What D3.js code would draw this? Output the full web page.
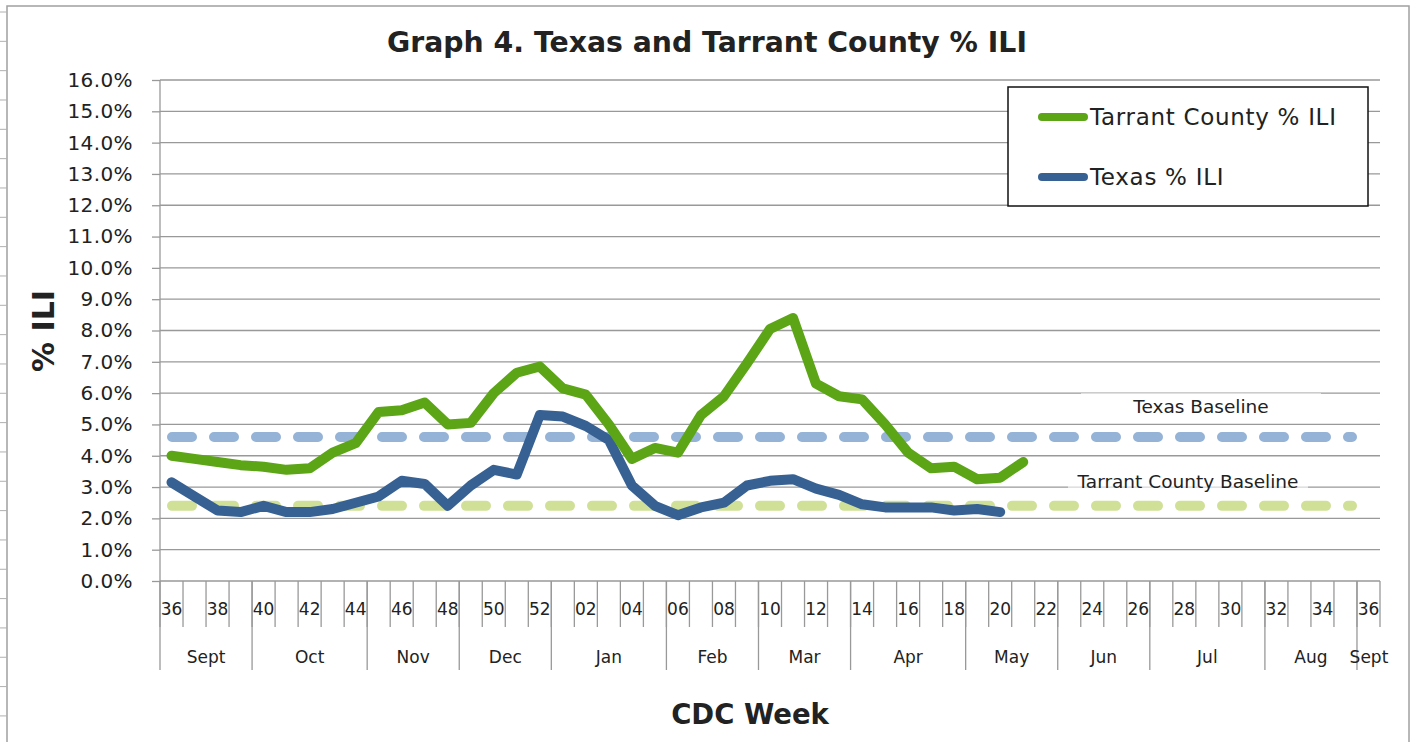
<!DOCTYPE html>
<html>
<head>
<meta charset="utf-8">
<script src="https://cdn.jsdelivr.net/npm/d3@7"></script>
<style>
  body { margin: 0; background: #fff; }
  text { font-family: "DejaVu Sans", Verdana, sans-serif; fill: #222; }
</style>
</head>
<body>
<div id="chart"></div>
<script>
// CDC weeks, 36 of one year to 36 of the next
var weeks = ["36","37","38","39","40","41","42","43","44","45","46","47","48","49","50","51","52",
  "01","02","03","04","05","06","07","08","09","10","11","12","13","14","15","16","17","18","19",
  "20","21","22","23","24","25","26","27","28","29","30","31","32","33","34","35","36"];

// month groups under the weeks and how many weeks each covers
var months = ["Sept","Oct","Nov","Dec","Jan","Feb","Mar","Apr","May","Jun","Jul","Aug","Sept"];
var monthSpans = [4,5,4,4,5,4,4,5,4,4,5,4,1];

// % ILI by week (starting at week 36)
var tarrant = [4.0,3.9,3.8,3.7,3.65,3.55,3.6,4.1,4.4,5.4,5.45,5.7,5.0,5.05,6.0,6.65,6.85,
  6.15,5.95,5.0,3.9,4.25,4.1,5.3,5.9,6.95,8.05,8.4,6.3,5.9,5.8,5.0,4.1,3.6,3.65,3.25,3.3,3.8];
var texas = [3.15,2.7,2.25,2.2,2.4,2.2,2.2,2.3,2.5,2.7,3.2,3.1,2.4,3.05,3.55,3.4,5.3,
  5.25,4.95,4.5,3.05,2.4,2.1,2.35,2.5,3.05,3.2,3.25,2.95,2.75,2.45,2.35,2.35,2.35,2.25,2.3,2.2];

var texasBaseline = 4.6;
var tarrantBaseline = 2.4;

var yTicks = d3.range(0, 17, 1);

var W = 1419, H = 742;
var svg = d3.select("#chart").append("svg")
  .attr("width", W)
  .attr("height", H);

// chart frame
svg.append("rect")
  .attr("x", 7).attr("y", 6)
  .attr("width", 1402).attr("height", 760)
  .attr("fill", "white")
  .attr("stroke", "#a0a0a0")
  .attr("stroke-width", 1.5);

// little sheet row marks left of the frame
svg.selectAll(".rowmark")
  .data(d3.range(0, 25))
  .enter().append("line")
    .attr("x1", 0).attr("x2", 7)
    .attr("y1", function(d) { return 12 + d * 29.33; })
    .attr("y2", function(d) { return 12 + d * 29.33; })
    .attr("stroke", "#b0b0b0");

var x = d3.scaleBand()
  .domain(d3.range(weeks.length))
  .range([160, 1380]);

var y = d3.scaleLinear()
  .domain([0, 16])
  .range([581, 80]);

// gridlines + y labels
var yAxis = svg.append("g")
  .attr("transform", "translate(160,0)")
  .call(d3.axisLeft(y).tickValues(yTicks).tickSize(8).tickPadding(19)
    .tickFormat(function(d) { return d.toFixed(1) + "%"; }));
yAxis.select(".domain").remove();
yAxis.selectAll("line").attr("stroke", "#999").attr("stroke-width", 1.3);
yAxis.selectAll("text")
  .style("font-size", "20px")
  .style("letter-spacing", "0.4px")
  .style("font-family", "DejaVu Sans, sans-serif")
  .attr("fill", "#222");

svg.append("g").selectAll("line")
  .data(yTicks)
  .enter().append("line")
    .attr("x1", 160).attr("x2", 1380)
    .attr("y1", function(d) { return y(d); })
    .attr("y2", function(d) { return y(d); })
    .attr("stroke", "#999")
    .attr("stroke-width", 1.3);

// y axis line
svg.append("line")
  .attr("x1", 160).attr("x2", 160)
  .attr("y1", y(16)).attr("y2", y(0))
  .attr("stroke", "#999").attr("stroke-width", 1.3);

// week ticks between categories
var bounds = d3.range(weeks.length).map(function(i) { return x(i); }).concat([x.range()[1]]);
svg.append("g").selectAll("line")
  .data(bounds)
  .enter().append("line")
    .attr("x1", function(d) { return d; })
    .attr("x2", function(d) { return d; })
    .attr("y1", y(0))
    .attr("y2", 627)
    .attr("stroke", "#999")
    .attr("stroke-width", 1.3);

// week labels, every other one
var xAxis = svg.append("g")
  .attr("transform", "translate(0," + 600 + ")")
  .call(d3.axisBottom(x).tickSize(0).tickPadding(3)
    .tickValues(d3.range(0, weeks.length, 2))
    .tickFormat(function(i) { return weeks[i]; }));
xAxis.select(".domain").remove();
xAxis.selectAll("text")
  .style("font-size", "17px")
  .style("font-family", "DejaVu Sans, sans-serif")
  .attr("fill", "#222");

// month groups
var start = 0;
var groups = months.map(function(m, k) {
  var g = {name: m, from: start, to: start + monthSpans[k]};
  start += monthSpans[k];
  return g;
});
var monthEdges = groups.map(function(g) { return g.from; });
svg.append("g").selectAll("line")
  .data(monthEdges)
  .enter().append("line")
    .attr("x1", function(i) { return x(i); })
    .attr("x2", function(i) { return x(i); })
    .attr("y1", y(0))
    .attr("y2", 670)
    .attr("stroke", "#999")
    .attr("stroke-width", 1.3);

svg.append("g").selectAll("text")
  .data(groups)
  .enter().append("text")
    .attr("x", function(g) {
      var a = x(g.from), b = g.to < weeks.length ? x(g.to) : x.range()[1];
      return g.to - g.from == 1 ? a + 12 : (a + b) / 2;
    })
    .attr("y", 663)
    .attr("text-anchor", "middle")
    .style("font-size", "17px")
    .text(function(g) { return g.name; });

// baselines
function baseline(v, color) {
  svg.append("line")
    .attr("x1", x.range()[0] + 12)
    .attr("x2", x.range()[1] - 28)
    .attr("y1", y(v)).attr("y2", y(v))
    .attr("stroke", color)
    .attr("stroke-width", 10)
    .attr("stroke-linecap", "round")
    .attr("stroke-dasharray", "20,22");
}
baseline(texasBaseline, "#95b3d7");
baseline(tarrantBaseline, "#d0e197");

// baseline labels on light boxes
function baseLabel(txt, cx, cy) {
  svg.append("rect")
    .attr("x", cx - 120).attr("y", cy - 14)
    .attr("width", 240).attr("height", 26)
    .attr("fill", "white").attr("opacity", 0.6);
  svg.append("text")
    .attr("x", cx).attr("y", cy + 6)
    .attr("text-anchor", "middle")
    .style("font-size", "18.5px")
    .text(txt);
}
baseLabel("Texas Baseline", 1201, 407);
baseLabel("Tarrant County Baseline", 1188, 482);

// series lines
var line = d3.line()
  .x(function(d, i) { return x(i) + x.bandwidth() / 2; })
  .y(function(d) { return y(d); });

svg.append("path")
  .datum(texas)
  .attr("d", line)
  .attr("fill", "none")
  .attr("stroke", "#376193")
  .attr("stroke-width", 10)
  .attr("stroke-linejoin", "round")
  .attr("stroke-linecap", "round");

svg.append("path")
  .datum(tarrant)
  .attr("d", line)
  .attr("fill", "none")
  .attr("stroke", "#5ba517")
  .attr("stroke-width", 10)
  .attr("stroke-linejoin", "round")
  .attr("stroke-linecap", "round");

// legend
var legend = svg.append("g");
legend.append("rect")
  .attr("x", 1008).attr("y", 87)
  .attr("width", 360).attr("height", 119)
  .attr("fill", "white")
  .attr("stroke", "#111")
  .attr("stroke-width", 1.5);
var legendItems = [
  {name: "Tarrant County % ILI", color: "#5ba517", y: 117},
  {name: "Texas % ILI", color: "#376193", y: 177}
];
legendItems.forEach(function(it) {
  legend.append("line")
    .attr("x1", 1042).attr("x2", 1084)
    .attr("y1", it.y).attr("y2", it.y)
    .attr("stroke", it.color)
    .attr("stroke-width", 8)
    .attr("stroke-linecap", "round");
  legend.append("text")
    .attr("x", 1090).attr("y", it.y + 8)
    .style("font-size", "23px")
    .style("letter-spacing", "0.7px")
    .text(it.name);
});

// title
svg.append("text")
  .attr("x", 707).attr("y", 52)
  .attr("text-anchor", "middle")
  .style("font-size", "28.3px")
  .style("font-weight", "bold")
  .attr("fill", "#111")
  .text("Graph 4. Texas and Tarrant County % ILI");

// axis titles
svg.append("text")
  .attr("transform", "translate(54,331) rotate(-90)")
  .attr("text-anchor", "middle")
  .style("font-size", "30px")
  .style("font-weight", "bold")
  .text("% ILI");

svg.append("text")
  .attr("x", 750).attr("y", 724)
  .attr("text-anchor", "middle")
  .style("font-size", "27.5px")
  .style("font-weight", "bold")
  .text("CDC Week");
</script>
</body>
</html>
